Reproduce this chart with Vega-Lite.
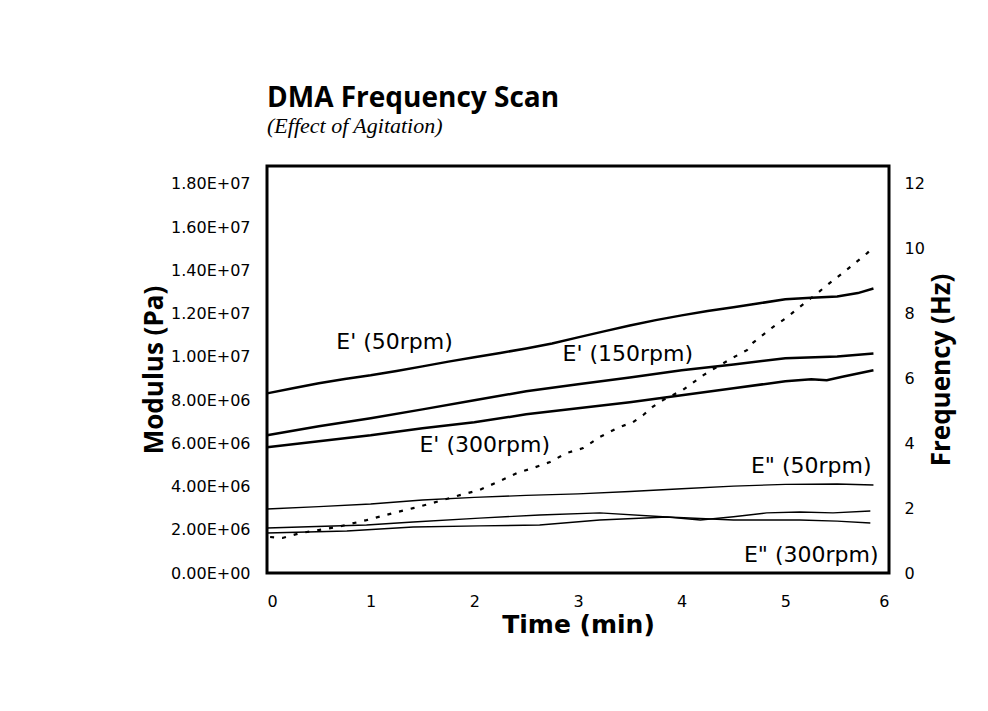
{
  "$schema": "https://vega.github.io/schema/vega-lite/v6.json",
  "width": 622,
  "height": 407,
  "autosize": {"type": "none"},
  "padding": {"left": 267, "top": 166, "right": 99, "bottom": 138},
  "background": "white",
  "config": {
    "view": {"stroke": "black", "strokeWidth": 3},
    "axis": {"grid": false, "domain": false, "ticks": false, "labelFont": "DejaVu Sans", "labelFontSize": 16, "labelColor": "black", "titleColor": "black"}
  },
  "title": {
    "text": "DMA Frequency Scan",
    "subtitle": "(Effect of Agitation)",
    "anchor": "start",
    "frame": "group",
    "font": "Open Sans",
    "fontSize": 28,
    "fontWeight": "bold",
    "color": "black",
    "subtitleFont": "Liberation Serif",
    "subtitleFontStyle": "italic",
    "subtitleFontSize": 22,
    "subtitleColor": "black",
    "subtitlePadding": 3,
    "offset": 29
  },
  "datasets": {
    "mod": [
      {"series": "E' (50rpm)", "type": "storage", "t": 0, "v": 8310000},
      {"series": "E' (50rpm)", "type": "storage", "t": 0.25, "v": 8550000},
      {"series": "E' (50rpm)", "type": "storage", "t": 0.5, "v": 8780000},
      {"series": "E' (50rpm)", "type": "storage", "t": 0.75, "v": 8980000},
      {"series": "E' (50rpm)", "type": "storage", "t": 1, "v": 9150000},
      {"series": "E' (50rpm)", "type": "storage", "t": 1.25, "v": 9350000},
      {"series": "E' (50rpm)", "type": "storage", "t": 1.5, "v": 9560000},
      {"series": "E' (50rpm)", "type": "storage", "t": 1.75, "v": 9780000},
      {"series": "E' (50rpm)", "type": "storage", "t": 2, "v": 9980000},
      {"series": "E' (50rpm)", "type": "storage", "t": 2.25, "v": 10180000},
      {"series": "E' (50rpm)", "type": "storage", "t": 2.5, "v": 10390000},
      {"series": "E' (50rpm)", "type": "storage", "t": 2.75, "v": 10620000},
      {"series": "E' (50rpm)", "type": "storage", "t": 3, "v": 10900000},
      {"series": "E' (50rpm)", "type": "storage", "t": 3.25, "v": 11180000},
      {"series": "E' (50rpm)", "type": "storage", "t": 3.5, "v": 11450000},
      {"series": "E' (50rpm)", "type": "storage", "t": 3.75, "v": 11700000},
      {"series": "E' (50rpm)", "type": "storage", "t": 4, "v": 11920000},
      {"series": "E' (50rpm)", "type": "storage", "t": 4.25, "v": 12120000},
      {"series": "E' (50rpm)", "type": "storage", "t": 4.5, "v": 12290000},
      {"series": "E' (50rpm)", "type": "storage", "t": 4.75, "v": 12480000},
      {"series": "E' (50rpm)", "type": "storage", "t": 5, "v": 12660000},
      {"series": "E' (50rpm)", "type": "storage", "t": 5.25, "v": 12740000},
      {"series": "E' (50rpm)", "type": "storage", "t": 5.5, "v": 12790000},
      {"series": "E' (50rpm)", "type": "storage", "t": 5.7, "v": 12950000},
      {"series": "E' (50rpm)", "type": "storage", "t": 5.85, "v": 13160000},
      {"series": "E' (150rpm)", "type": "storage", "t": 0, "v": 6370000},
      {"series": "E' (150rpm)", "type": "storage", "t": 0.5, "v": 6790000},
      {"series": "E' (150rpm)", "type": "storage", "t": 1, "v": 7160000},
      {"series": "E' (150rpm)", "type": "storage", "t": 1.5, "v": 7570000},
      {"series": "E' (150rpm)", "type": "storage", "t": 2, "v": 7990000},
      {"series": "E' (150rpm)", "type": "storage", "t": 2.5, "v": 8410000},
      {"series": "E' (150rpm)", "type": "storage", "t": 3, "v": 8730000},
      {"series": "E' (150rpm)", "type": "storage", "t": 3.5, "v": 9050000},
      {"series": "E' (150rpm)", "type": "storage", "t": 4, "v": 9380000},
      {"series": "E' (150rpm)", "type": "storage", "t": 4.5, "v": 9650000},
      {"series": "E' (150rpm)", "type": "storage", "t": 5, "v": 9930000},
      {"series": "E' (150rpm)", "type": "storage", "t": 5.5, "v": 10020000},
      {"series": "E' (150rpm)", "type": "storage", "t": 5.85, "v": 10160000},
      {"series": "E' (300rpm)", "type": "storage", "t": 0, "v": 5820000},
      {"series": "E' (300rpm)", "type": "storage", "t": 0.5, "v": 6100000},
      {"series": "E' (300rpm)", "type": "storage", "t": 1, "v": 6370000},
      {"series": "E' (300rpm)", "type": "storage", "t": 1.5, "v": 6700000},
      {"series": "E' (300rpm)", "type": "storage", "t": 2, "v": 6970000},
      {"series": "E' (300rpm)", "type": "storage", "t": 2.5, "v": 7340000},
      {"series": "E' (300rpm)", "type": "storage", "t": 3, "v": 7620000},
      {"series": "E' (300rpm)", "type": "storage", "t": 3.5, "v": 7900000},
      {"series": "E' (300rpm)", "type": "storage", "t": 4, "v": 8220000},
      {"series": "E' (300rpm)", "type": "storage", "t": 4.5, "v": 8550000},
      {"series": "E' (300rpm)", "type": "storage", "t": 5, "v": 8870000},
      {"series": "E' (300rpm)", "type": "storage", "t": 5.25, "v": 8960000},
      {"series": "E' (300rpm)", "type": "storage", "t": 5.4, "v": 8920000},
      {"series": "E' (300rpm)", "type": "storage", "t": 5.55, "v": 9080000},
      {"series": "E' (300rpm)", "type": "storage", "t": 5.85, "v": 9380000},
      {"series": "E\" (50rpm)", "type": "loss", "t": 0, "v": 2960000},
      {"series": "E\" (50rpm)", "type": "loss", "t": 0.5, "v": 3070000},
      {"series": "E\" (50rpm)", "type": "loss", "t": 1, "v": 3190000},
      {"series": "E\" (50rpm)", "type": "loss", "t": 1.5, "v": 3380000},
      {"series": "E\" (50rpm)", "type": "loss", "t": 2, "v": 3500000},
      {"series": "E\" (50rpm)", "type": "loss", "t": 2.5, "v": 3590000},
      {"series": "E\" (50rpm)", "type": "loss", "t": 3, "v": 3660000},
      {"series": "E\" (50rpm)", "type": "loss", "t": 3.5, "v": 3770000},
      {"series": "E\" (50rpm)", "type": "loss", "t": 4, "v": 3900000},
      {"series": "E\" (50rpm)", "type": "loss", "t": 4.5, "v": 4020000},
      {"series": "E\" (50rpm)", "type": "loss", "t": 5, "v": 4100000},
      {"series": "E\" (50rpm)", "type": "loss", "t": 5.5, "v": 4120000},
      {"series": "E\" (50rpm)", "type": "loss", "t": 5.85, "v": 4070000},
      {"series": "E\" (150rpm)", "type": "loss", "t": 0, "v": 2080000},
      {"series": "E\" (150rpm)", "type": "loss", "t": 0.96, "v": 2220000},
      {"series": "E\" (150rpm)", "type": "loss", "t": 1.41, "v": 2360000},
      {"series": "E\" (150rpm)", "type": "loss", "t": 2.05, "v": 2540000},
      {"series": "E\" (150rpm)", "type": "loss", "t": 2.63, "v": 2680000},
      {"series": "E\" (150rpm)", "type": "loss", "t": 3.21, "v": 2780000},
      {"series": "E\" (150rpm)", "type": "loss", "t": 3.86, "v": 2590000},
      {"series": "E\" (150rpm)", "type": "loss", "t": 4.18, "v": 2450000},
      {"series": "E\" (150rpm)", "type": "loss", "t": 4.5, "v": 2600000},
      {"series": "E\" (150rpm)", "type": "loss", "t": 4.82, "v": 2780000},
      {"series": "E\" (150rpm)", "type": "loss", "t": 5.14, "v": 2820000},
      {"series": "E\" (150rpm)", "type": "loss", "t": 5.46, "v": 2780000},
      {"series": "E\" (150rpm)", "type": "loss", "t": 5.82, "v": 2870000},
      {"series": "E\" (300rpm)", "type": "loss", "t": 0, "v": 1850000},
      {"series": "E\" (300rpm)", "type": "loss", "t": 0.77, "v": 1940000},
      {"series": "E\" (300rpm)", "type": "loss", "t": 1.41, "v": 2130000},
      {"series": "E\" (300rpm)", "type": "loss", "t": 2.05, "v": 2180000},
      {"series": "E\" (300rpm)", "type": "loss", "t": 2.63, "v": 2220000},
      {"series": "E\" (300rpm)", "type": "loss", "t": 3.21, "v": 2450000},
      {"series": "E\" (300rpm)", "type": "loss", "t": 3.86, "v": 2590000},
      {"series": "E\" (300rpm)", "type": "loss", "t": 4.5, "v": 2450000},
      {"series": "E\" (300rpm)", "type": "loss", "t": 5.14, "v": 2450000},
      {"series": "E\" (300rpm)", "type": "loss", "t": 5.5, "v": 2400000},
      {"series": "E\" (300rpm)", "type": "loss", "t": 5.82, "v": 2310000}
    ],
    "freq": [
      {"t": 0.03, "f": 1.11},
      {"t": 0.15, "f": 1.08},
      {"t": 0.32, "f": 1.23},
      {"t": 0.68, "f": 1.42},
      {"t": 0.96, "f": 1.63},
      {"t": 1.22, "f": 1.85},
      {"t": 1.41, "f": 2.0},
      {"t": 1.6, "f": 2.16},
      {"t": 1.86, "f": 2.4},
      {"t": 2.05, "f": 2.56},
      {"t": 2.25, "f": 2.84},
      {"t": 2.41, "f": 3.08},
      {"t": 2.57, "f": 3.24},
      {"t": 2.73, "f": 3.42},
      {"t": 2.89, "f": 3.7},
      {"t": 3.05, "f": 3.85},
      {"t": 3.21, "f": 4.19},
      {"t": 3.38, "f": 4.47},
      {"t": 3.53, "f": 4.65},
      {"t": 3.63, "f": 4.87},
      {"t": 3.72, "f": 5.12},
      {"t": 3.82, "f": 5.33},
      {"t": 4.01, "f": 5.64},
      {"t": 4.21, "f": 6.1},
      {"t": 4.34, "f": 6.35},
      {"t": 4.49, "f": 6.63},
      {"t": 4.63, "f": 6.87},
      {"t": 4.69, "f": 7.1},
      {"t": 4.88, "f": 7.58},
      {"t": 5.02, "f": 7.89},
      {"t": 5.14, "f": 8.2},
      {"t": 5.31, "f": 8.63},
      {"t": 5.43, "f": 8.94},
      {"t": 5.59, "f": 9.34},
      {"t": 5.79, "f": 9.86},
      {"t": 5.82, "f": 9.95}
    ],
    "labels": [
      {"label": "E' (50rpm)", "t": 1.23, "v": 10360000},
      {"label": "E' (150rpm)", "t": 3.48, "v": 9810000},
      {"label": "E' (300rpm)", "t": 2.1, "v": 5600000},
      {"label": "E\" (50rpm)", "t": 5.25, "v": 4630000},
      {"label": "E\" (300rpm)", "t": 5.25, "v": 510000}
    ]
  },
  "layer": [
    {
      "layer": [
        {
          "data": {"name": "mod"},
          "transform": [{"filter": "datum.type == 'storage'"}],
          "mark": {"type": "line", "color": "black", "strokeWidth": 2.5},
          "encoding": {
            "x": {"field": "t", "type": "quantitative", "scale": {"domain": [0, 6], "nice": false}, "axis": {"values": [0, 1, 2, 3, 4, 5, 6], "labelPadding": 20, "title": "Time (min)", "titleFont": "DejaVu Sans", "titleFontWeight": "bold", "titleFontSize": 25, "titlePadding": 3}},
            "y": {"field": "v", "type": "quantitative", "scale": {"domain": [0, 18830000], "nice": false}, "axis": {"orient": "left", "values": [0, 2000000, 4000000, 6000000, 8000000, 10000000, 12000000, 14000000, 16000000, 18000000], "labelExpr": "replace(format(datum.value, '.2e'), 'e+', 'E+0')", "labelPadding": 17, "title": "Modulus (Pa)", "titleFont": "Open Sans", "titleFontWeight": "bold", "titleFontSize": 26, "titlePadding": 3}},
            "detail": {"field": "series"}
          }
        },
        {
          "data": {"name": "mod"},
          "transform": [{"filter": "datum.type == 'loss'"}],
          "mark": {"type": "line", "color": "black", "strokeWidth": 1.4},
          "encoding": {
            "x": {"field": "t", "type": "quantitative", "scale": {"domain": [0, 6], "nice": false}, "axis": {"values": [0, 1, 2, 3, 4, 5, 6], "labelPadding": 20, "title": "Time (min)", "titleFont": "DejaVu Sans", "titleFontWeight": "bold", "titleFontSize": 25, "titlePadding": 3}},
            "y": {"field": "v", "type": "quantitative", "scale": {"domain": [0, 18830000], "nice": false}, "axis": {"orient": "left", "values": [0, 2000000, 4000000, 6000000, 8000000, 10000000, 12000000, 14000000, 16000000, 18000000], "labelExpr": "replace(format(datum.value, '.2e'), 'e+', 'E+0')", "labelPadding": 17, "title": "Modulus (Pa)", "titleFont": "Open Sans", "titleFontWeight": "bold", "titleFontSize": 26, "titlePadding": 3}},
            "detail": {"field": "series"}
          }
        },
        {
          "data": {"name": "labels"},
          "mark": {"type": "text", "font": "DejaVu Sans", "fontSize": 22, "baseline": "alphabetic", "align": "center", "color": "black"},
          "encoding": {
            "x": {"field": "t", "type": "quantitative", "scale": {"domain": [0, 6], "nice": false}, "axis": {"values": [0, 1, 2, 3, 4, 5, 6], "labelPadding": 20, "title": "Time (min)", "titleFont": "DejaVu Sans", "titleFontWeight": "bold", "titleFontSize": 25, "titlePadding": 3}},
            "y": {"field": "v", "type": "quantitative", "scale": {"domain": [0, 18830000], "nice": false}, "axis": {"orient": "left", "values": [0, 2000000, 4000000, 6000000, 8000000, 10000000, 12000000, 14000000, 16000000, 18000000], "labelExpr": "replace(format(datum.value, '.2e'), 'e+', 'E+0')", "labelPadding": 17, "title": "Modulus (Pa)", "titleFont": "Open Sans", "titleFontWeight": "bold", "titleFontSize": 26, "titlePadding": 3}},
            "text": {"field": "label"}
          }
        }
      ]
    },
    {
      "data": {"name": "freq"},
      "mark": {"type": "line", "color": "black", "strokeWidth": 2.2, "strokeDash": [4, 8]},
      "encoding": {
        "x": {"field": "t", "type": "quantitative", "scale": {"domain": [0, 6], "nice": false}, "axis": {"values": [0, 1, 2, 3, 4, 5, 6], "labelPadding": 20, "title": "Time (min)", "titleFont": "DejaVu Sans", "titleFontWeight": "bold", "titleFontSize": 25, "titlePadding": 3}},
        "y": {"field": "f", "type": "quantitative", "scale": {"domain": [0, 12.545], "nice": false}, "axis": {"orient": "right", "values": [0, 2, 4, 6, 8, 10, 12], "labelPadding": 15, "title": "Frequency (Hz)", "titleFont": "Open Sans", "titleFontWeight": "bold", "titleFontSize": 26, "titleAngle": 270, "titleBaseline": "top", "titlePadding": 4}}
      }
    }
  ],
  "resolve": {"scale": {"y": "independent"}}
}
